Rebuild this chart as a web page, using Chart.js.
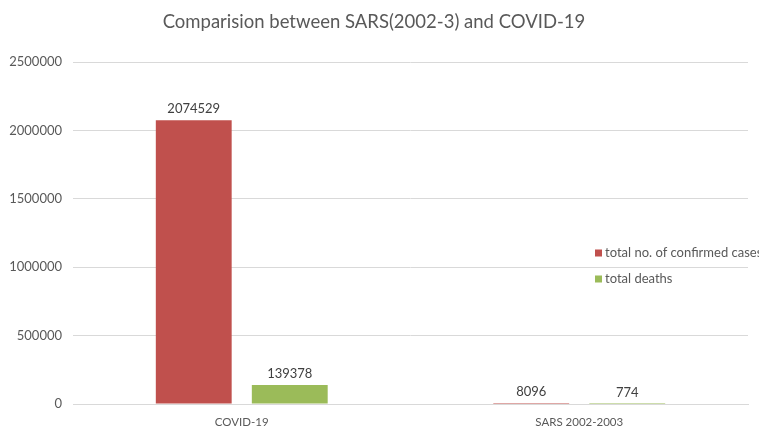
<!DOCTYPE html>
<html>
<head>
<meta charset="utf-8">
<script src="https://cdn.jsdelivr.net/npm/chart.js@4"></script>
<style>
  html, body { margin: 0; padding: 0; background: #fff; }
  #wrap { width: 759px; height: 426px; }
</style>
</head>
<body>
<div id="wrap"><canvas id="sars-chart"></canvas></div>
<script>
// Chart data
const categories = ['COVID-19', 'SARS 2002-2003'];
const confirmedCases = [2074529, 8096];
const totalDeaths = [139378, 774];
const seriesNames = ['total no. of confirmed cases', 'total deaths'];
const yTicks = [0, 500000, 1000000, 1500000, 2000000, 2500000];

const FONT = 'Lato, "Open Sans", sans-serif';
const TEXT_COLOR = '#595959';

// value labels above each bar
const valueLabels = {
    id: 'valueLabels',
    afterDatasetsDraw(chart) {
        const ctx = chart.ctx;
        ctx.save();
        ctx.font = '13px ' + FONT;
        ctx.fillStyle = '#404040';
        ctx.textAlign = 'center';
        ctx.textBaseline = 'bottom';
        chart.data.datasets.forEach((ds, i) => {
            chart.getDatasetMeta(i).data.forEach((bar, j) => {
                ctx.fillText(String(ds.data[j]), bar.x, bar.y - 5);
            });
        });
        ctx.restore();
    }
};

// legend drawn on top of the plot area, like the original
const sideLegend = {
    id: 'sideLegend',
    afterDraw(chart) {
        const ctx = chart.ctx;
        ctx.save();
        ctx.font = '13px ' + FONT;
        ctx.textBaseline = 'middle';
        ctx.textAlign = 'left';
        chart.data.datasets.forEach((ds, i) => {
            const y = 253 + i * 26;
            ctx.fillStyle = ds.backgroundColor;
            ctx.fillRect(595, y - 3.5, 7, 7);
            ctx.fillStyle = TEXT_COLOR;
            ctx.fillText(ds.label, 605, y);
        });
        ctx.restore();
    }
};

const config = {
    type: 'bar',
    data: {
        labels: categories,
        datasets: [{
            label: seriesNames[0],
            data: confirmedCases,
            backgroundColor: '#C0504D',
            categoryPercentage: 0.569,
            barPercentage: 0.79
        }, {
            label: seriesNames[1],
            data: totalDeaths,
            backgroundColor: '#9BBB59',
            categoryPercentage: 0.569,
            barPercentage: 0.79
        }]
    },
    options: {
        responsive: true,
        maintainAspectRatio: false,
        animation: false,
        layout: {
            padding: { top: 0, right: 11, left: 0, bottom: 0 }
        },
        plugins: {
            legend: { display: false },
            tooltip: { enabled: false },
            title: {
                display: true,
                text: 'Comparision between SARS(2002-3) and COVID-19',
                color: TEXT_COLOR,
                font: { family: FONT, size: 18.5, weight: 'normal' },
                padding: { top: 11, bottom: 29 }
            }
        },
        scales: {
            x: {
                grid: { display: false },
                border: { color: '#d9d9d9' },
                ticks: {
                    color: TEXT_COLOR,
                    font: { family: FONT, size: 11.5 },
                    padding: 3
                },
                afterFit(scale) { scale.height = 22; }
            },
            y: {
                min: 0,
                max: 2500000,
                border: { display: false },
                grid: { color: '#d9d9d9', drawTicks: false },
                afterBuildTicks(scale) {
                    scale.ticks = yTicks.map(v => ({ value: v }));
                },
                ticks: {
                    color: TEXT_COLOR,
                    font: { family: FONT, size: 13 },
                    padding: 11,
                    callback: v => String(v)
                },
                afterFit(scale) { scale.width = 73; }
            }
        }
    },
    plugins: [valueLabels, sideLegend]
};

new Chart(document.getElementById('sars-chart'), config);
</script>
</body>
</html>
